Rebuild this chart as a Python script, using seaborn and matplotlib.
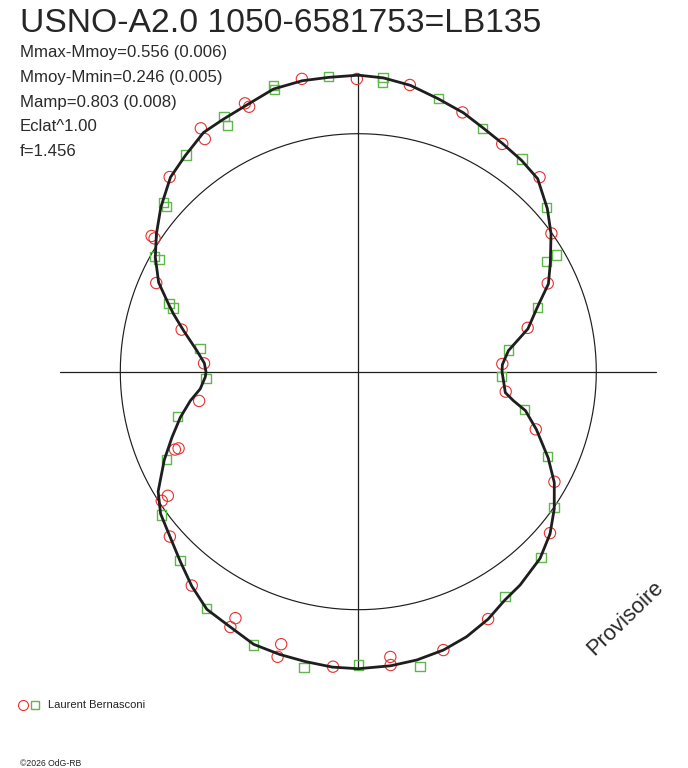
import numpy as np
import pandas as pd
import matplotlib
matplotlib.use("Agg")
import matplotlib.pyplot as plt
import seaborn as sns

# ---------------- data ----------------
title = "USNO-A2.0 1050-6581753=LB135"
info_lines = ["Mmax-Mmoy=0.556 (0.006)", "Mmoy-Mmin=0.246 (0.005)",
              "Mamp=0.803 (0.008)", "Eclat^1.00", "f=1.456"]
observer = "Laurent Bernasconi"
credit = "\u00a92026 OdG-RB"
watermark = "Provisoire"

# model light curve: rotational phase and relative flux (1 = mean)
curve_phase = [0.000, 0.0136, 0.0286, 0.0453, 0.0614, 0.075, 0.090, 0.1047, 0.1192, 0.1367,
               0.1511, 0.1678, 0.1811, 0.1953, 0.2106, 0.2278, 0.2422, 0.25, 0.2725, 0.2794,
               0.2864, 0.30, 0.3178, 0.3319, 0.3472, 0.3617, 0.3772, 0.3872, 0.3967, 0.4092,
               0.4231, 0.4383, 0.4528, 0.4681, 0.4825, 0.5, 0.5139, 0.5289, 0.5431, 0.5583,
               0.5739, 0.5903, 0.605, 0.62, 0.635, 0.6508, 0.6642, 0.6822, 0.6961, 0.71,
               0.7228, 0.7328, 0.7447, 0.75, 0.7589, 0.7706, 0.7867, 0.7981, 0.8044, 0.8169,
               0.8317, 0.8453, 0.8606, 0.8778, 0.8925, 0.9086, 0.9219, 0.9381, 0.9536, 0.9697,
               0.9839]
curve_flux = [1.246, 1.239, 1.223, 1.195, 1.174, 1.151, 1.134, 1.122, 1.107, 1.049,
              0.996, 0.928, 0.880, 0.798, 0.735, 0.637, 0.606, 0.604, 0.624, 0.663,
              0.721, 0.787, 0.876, 0.946, 1.005, 1.055, 1.095, 1.108, 1.125, 1.140,
              1.174, 1.203, 1.223, 1.236, 1.243, 1.248, 1.246, 1.238, 1.233, 1.227,
              1.200, 1.184, 1.141, 1.093, 1.053, 1.023, 0.980, 0.895, 0.830, 0.772,
              0.716, 0.668, 0.643, 0.640, 0.648, 0.684, 0.754, 0.813, 0.846, 0.919,
              0.979, 1.027, 1.080, 1.136, 1.163, 1.197, 1.203, 1.216, 1.240, 1.245,
              1.243]

# observations (session 1: red circles, session 2: green squares)
red_phase = [0.9697, 0.9992, 0.0283, 0.0608, 0.0897, 0.1194, 0.1511, 0.1806, 0.2097, 0.2414,
             0.2714, 0.300, 0.3314, 0.3614, 0.4231, 0.4528, 0.4822, 0.4825, 0.5136, 0.5439,
             0.5439, 0.5736, 0.5739, 0.6053, 0.6356, 0.6575, 0.6581, 0.6861, 0.6858, 0.7211,
             0.7586, 0.7872, 0.8158, 0.8425, 0.8422, 0.8775, 0.9086, 0.9072, 0.9364, 0.9378]
red_flux = [1.253, 1.230, 1.224, 1.174, 1.132, 1.117, 0.998, 0.878, 0.735, 0.606,
            0.625, 0.784, 0.945, 1.053, 1.174, 1.223, 1.206, 1.240, 1.244, 1.190,
            1.245, 1.157, 1.200, 1.139, 1.052, 0.988, 0.955, 0.837, 0.821, 0.680,
            0.649, 0.763, 0.927, 1.039, 1.023, 1.139, 1.218, 1.171, 1.224, 1.204]
green_phase = [0.9839, 0.9544, 0.9539, 0.9228, 0.9222, 0.8931, 0.8636, 0.8633, 0.8322, 0.8314,
               0.8050, 0.8028, 0.7728, 0.7428, 0.7111, 0.6817, 0.6497, 0.6203, 0.5906, 0.5583,
               0.5289, 0.4997, 0.4672, 0.4081, 0.3764, 0.3467, 0.3172, 0.2858, 0.2556, 0.2272,
               0.1950, 0.1658, 0.1653, 0.1358, 0.1044, 0.0750, 0.0453, 0.0133, 0.0131]
green_flux = [1.246, 1.255, 1.238, 1.211, 1.173, 1.163, 1.084, 1.063, 0.983, 0.960,
              0.845, 0.823, 0.672, 0.641, 0.782, 0.886, 1.022, 1.092, 1.183, 1.230,
              1.264, 1.232, 1.266, 1.129, 1.095, 1.001, 0.872, 0.718, 0.603, 0.637,
              0.799, 0.917, 0.967, 1.050, 1.128, 1.148, 1.197, 1.241, 1.218]

mean_flux = 1.0      # reference circle
axis_extent = 1.252  # length of the cross-hair arms

# ---------------- style ----------------
sns.set_style("white")
plt.rcParams['font.family'] = ['Liberation Sans', 'DejaVu Sans']

W, H = 688, 768
fig = plt.figure(figsize=(W / 100, H / 100), dpi=100)

def fx(x):
    return x / W

def fy(y):
    return 1 - y / H

# polar axes: centre (358.3, 371.7) px, 238 px per flux unit
cx, cy, unit = 358.3, 371.7, 238.0
rmax = 1.30
rad = rmax * unit
ax = fig.add_axes([fx(cx - rad), fy(cy + rad), 2 * rad / W, 2 * rad / H], projection='polar')
ax.set_theta_zero_location('N')
ax.set_theta_direction(-1)
ax.set_rlim(0, rmax)
ax.grid(False)
ax.set_xticks([])
ax.set_yticks([])
ax.spines['polar'].set_visible(False)
ax.set_facecolor('none')

ink = '#1e1e1e'

# cross-hair
for th in (0.0, np.pi / 2):
    ax.plot([th, th], [axis_extent, 0], color=ink, lw=0.9, zorder=1, clip_on=False)
    ax.plot([th + np.pi, th + np.pi], [0, axis_extent], color=ink, lw=0.9, zorder=1, clip_on=False)

# mean-flux circle
circ = pd.DataFrame({"theta": np.linspace(0, 2 * np.pi, 721), "r": mean_flux})
sns.lineplot(data=circ, x="theta", y="r", sort=False, ax=ax, color=ink, lw=0.85, zorder=1)

# observations
red = pd.DataFrame({"theta": 2 * np.pi * np.array(red_phase), "r": red_flux})
green = pd.DataFrame({"theta": 2 * np.pi * np.array(green_phase), "r": green_flux})
sns.scatterplot(data=red, x="theta", y="r", ax=ax, marker='o', s=66, color='none',
                edgecolor='#e8302f', linewidth=0.8, zorder=2, clip_on=False)
sns.scatterplot(data=green, x="theta", y="r", ax=ax, marker='s', s=44, color='none',
                edgecolor='#5cb848', linewidth=1.0, zorder=2, clip_on=False)

# model curve (closed)
cph = np.append(curve_phase, 1.0)
cfl = np.append(curve_flux, curve_flux[0])
curve = pd.DataFrame({"theta": 2 * np.pi * cph, "r": cfl})
sns.lineplot(data=curve, x="theta", y="r", sort=False, ax=ax, color=ink, lw=2.0, zorder=3)

ax.set_xlabel("")
ax.set_ylabel("")

# ---------------- texts ----------------
fig.text(fx(20), fy(31.7), title, fontsize=24.2, va='baseline', ha='left', color='#262626')
for i, line in enumerate(info_lines):
    fig.text(fx(20), fy(57.3 + 24.6 * i), line, fontsize=12.1, va='baseline', ha='left',
             color='#2a2a2a')

fig.text(fx(594), fy(656), watermark, fontsize=15.8, rotation=44, rotation_mode='anchor',
         ha='left', va='baseline', color='#2a2a2a')

# legend / credits overlay
ov = fig.add_axes([0, 0, 1, 1], facecolor='none')
ov.set_xlim(0, W)
ov.set_ylim(H, 0)
ov.axis('off')
ov.plot([22.7], [704.7], marker='o', ms=7.2, mfc='none', mec='#e8302f', mew=0.8, ls='none')
ov.plot([35.2], [704.7], marker='s', ms=5.2, mfc='none', mec='#5cb848', mew=1.0, ls='none')
ov.text(48, 705, observer, fontsize=8, va='center', ha='left', color='#222222')
ov.text(20, 763, credit, fontsize=6.2, va='center', ha='left', color='#222222')

fig.savefig("out.png", dpi=100, facecolor='white')
